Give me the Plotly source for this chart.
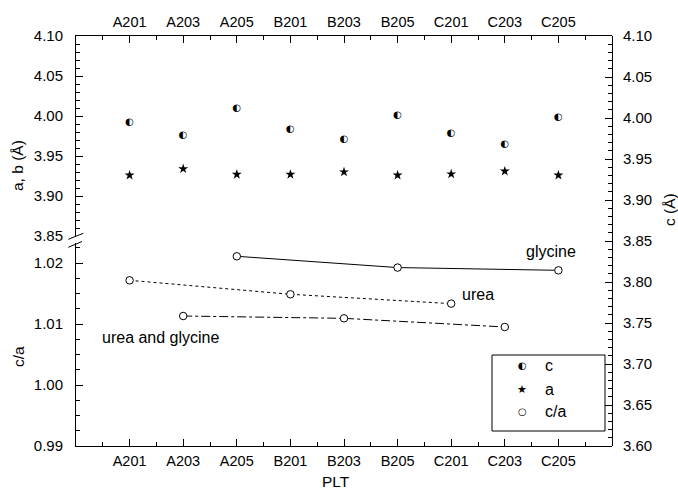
import plotly.graph_objects as go

categories = ['A201', 'A203', 'A205', 'B201', 'B203', 'B205', 'C201', 'C203', 'C205']
c_vals = [3.994, 3.979, 4.011, 3.986, 3.974, 4.003, 3.981, 3.968, 4.001]
a_vals = [3.926, 3.934, 3.927, 3.927, 3.930, 3.926, 3.9275, 3.931, 3.926]

glycine_cat = ['A205', 'B205', 'C205']
glycine_ca = [1.0211, 1.01925, 1.0188]
urea_cat = ['A201', 'B201', 'C201']
urea_ca = [1.01716, 1.01487, 1.01334]
ureagly_cat = ['A203', 'B203', 'C203']
ureagly_ca = [1.01131, 1.01093, 1.00951]

ab_ticks = [3.85, 3.90, 3.95, 4.00, 4.05, 4.10]
ca_ticks = [0.99, 1.00, 1.01, 1.02]
c_ticks = [3.60, 3.65, 3.70, 3.75, 3.80, 3.85, 3.90, 3.95, 4.00, 4.05, 4.10]

pos = {cat: i + 1 for i, cat in enumerate(categories)}
xs = [pos[c] for c in categories]

FONT = "Liberation Sans, Arial, sans-serif"
W, H = 678, 490
L, R, T, B = 76, 612, 36, 446


def px(x):
    return (x - L) / (R - L)


def py(y):
    return (B - y) / (B - T)


fig = go.Figure()

# c (half-filled circles) on right axis
fig.add_trace(go.Scatter(x=xs, y=c_vals, mode='text', text=['\u25D0'] * len(xs),
                         textfont=dict(family='DejaVu Sans', size=10, color='black'),
                         textposition='middle center', xaxis='x', yaxis='y3', showlegend=False))
# a (stars) on upper left axis
fig.add_trace(go.Scatter(x=xs, y=a_vals, mode='markers',
                         marker=dict(symbol='star', size=7.5, color='black', line=dict(width=0)),
                         xaxis='x', yaxis='y2', showlegend=False))

circle = dict(symbol='circle', size=7.5, color='white', line=dict(color='black', width=1))
fig.add_trace(go.Scatter(x=[pos[c] for c in glycine_cat], y=glycine_ca, mode='lines+markers',
                         line=dict(color='black', width=1, dash='solid'), marker=circle,
                         xaxis='x', yaxis='y', showlegend=False))
fig.add_trace(go.Scatter(x=[pos[c] for c in urea_cat], y=urea_ca, mode='lines+markers',
                         line=dict(color='black', width=1, dash='dot'), marker=circle,
                         xaxis='x', yaxis='y', showlegend=False))
fig.add_trace(go.Scatter(x=[pos[c] for c in ureagly_cat], y=ureagly_ca, mode='lines+markers',
                         line=dict(color='black', width=1, dash='dashdot'), marker=circle,
                         xaxis='x', yaxis='y', showlegend=False))
# invisible trace to activate top axis
fig.add_trace(go.Scatter(x=[None], y=[None], xaxis='x2', yaxis='y2', showlegend=False,
                         hoverinfo='skip'))

common_x = dict(range=[0, 10], tickmode='array', tickvals=xs, ticktext=categories,
                ticks='inside', ticklen=7, tickcolor='black', tickwidth=1, automargin=False,
                showline=True, linecolor='black', linewidth=1, showgrid=False, zeroline=False,
                tickfont=dict(family=FONT, size=14.5, color='black'), ticklabelstandoff=2,
                minor=dict(ticks='inside', ticklen=4, tickcolor='black', tickwidth=1,
                           tickmode='linear', tick0=0.5, dtick=1, showgrid=False))

ydef = dict(ticks='inside', ticklen=7, tickcolor='black', tickwidth=1, automargin=False,
            showline=True, linecolor='black', linewidth=1, showgrid=False, zeroline=False,
            tickfont=dict(family=FONT, size=15, color='black'), tickformat='.2f',
            ticklabelstandoff=9)

fig.update_layout(
    template='none',
    width=W, height=H,
    margin=dict(l=L, r=W - R, t=T, b=H - B, pad=0, autoexpand=False),
    paper_bgcolor='white', plot_bgcolor='rgba(0,0,0,0)',
    showlegend=False,
    xaxis=dict(anchor='y', side='bottom', **common_x),
    xaxis2=dict(anchor='y2', side='top', overlaying='x', **common_x),
    yaxis=dict(domain=[0, py(243)], range=[0.99, 0.99 + (B - 243) / 6100], anchor='x',
               tickmode='array', tickvals=ca_ticks,
               minor=dict(ticks='inside', ticklen=4, tickcolor='black', tickwidth=1,
                          tickmode='linear', tick0=0.99, dtick=0.0025, showgrid=False),
               **ydef),
    yaxis2=dict(domain=[py(236), 1], range=[3.85, 4.10], anchor='x',
                tickmode='array', tickvals=ab_ticks,
                minor=dict(ticks='inside', ticklen=4, tickcolor='black', tickwidth=1,
                           tickmode='linear', tick0=3.85, dtick=0.01, showgrid=False),
                **ydef),
    yaxis3=dict(domain=[0, 1], range=[3.60, 4.10], anchor='x', side='right',
                tickmode='array', tickvals=c_ticks,
                minor=dict(ticks='inside', ticklen=4, tickcolor='black', tickwidth=1,
                           tickmode='linear', tick0=3.60, dtick=0.01, showgrid=False),
                **dict(ydef, ticklabelstandoff=7)),
)

shapes = [
    # axis break marks
    dict(type='line', xref='paper', yref='paper', x0=px(68.3), y0=py(239.3), x1=px(83.3), y1=py(233.3),
         line=dict(color='black', width=1), layer='above'),
    dict(type='line', xref='paper', yref='paper', x0=px(68.3), y0=py(247.3), x1=px(82), y1=py(241.5),
         line=dict(color='black', width=1), layer='above'),
    # legend box
    dict(type='rect', xref='paper', yref='paper', x0=px(492), y0=py(355), x1=px(605), y1=py(431),
         line=dict(color='black', width=1), fillcolor='rgba(0,0,0,0)', layer='above'),
]
fig.update_layout(shapes=shapes)

ann = []
lab_font = dict(family=FONT, size=16, color='black')
title_font = dict(family=FONT, size=15.5, color='black')
for txt, x, y in [('glycine', 551, 251), ('urea', 478, 294), ('urea and glycine', 161.3, 337)]:
    ann.append(dict(text=txt, x=px(x), y=py(y), xref='paper', yref='paper', showarrow=False,
                    font=lab_font, xanchor='center', yanchor='middle'))
for txt, x, y, ang in [('a, b (Å)', 18, 166, -90), ('c/a', 18, 357, -90), ('c (Å)', 669, 209, -90),
                       ('PLT', 336, 481, 0)]:
    ann.append(dict(text=txt, x=px(x), y=py(y), xref='paper', yref='paper', showarrow=False,
                    font=title_font, textangle=ang, xanchor='center', yanchor='middle'))
# legend entries
leg = [('\u25D0', 'c', 365, 'DejaVu Sans', 10), ('\u2605', 'a', 389, 'DejaVu Sans', 11),
       ('\u25CB', 'c/a', 411, 'DejaVu Sans', 10)]
for sym, txt, y, fam, sz in leg:
    ann.append(dict(text=sym, x=px(522), y=py(y), xref='paper', yref='paper', showarrow=False,
                    font=dict(family=fam, size=sz, color='black'), xanchor='center', yanchor='middle'))
    ann.append(dict(text=txt, x=px(543), y=py(y), xref='paper', yref='paper', showarrow=False,
                    font=lab_font, xanchor='left', yanchor='middle'))
fig.update_layout(annotations=ann)

fig.write_html("out.html", config={'displayModeBar': False},
               post_script="document.body.style.margin='0';document.body.style.overflow='hidden';")
